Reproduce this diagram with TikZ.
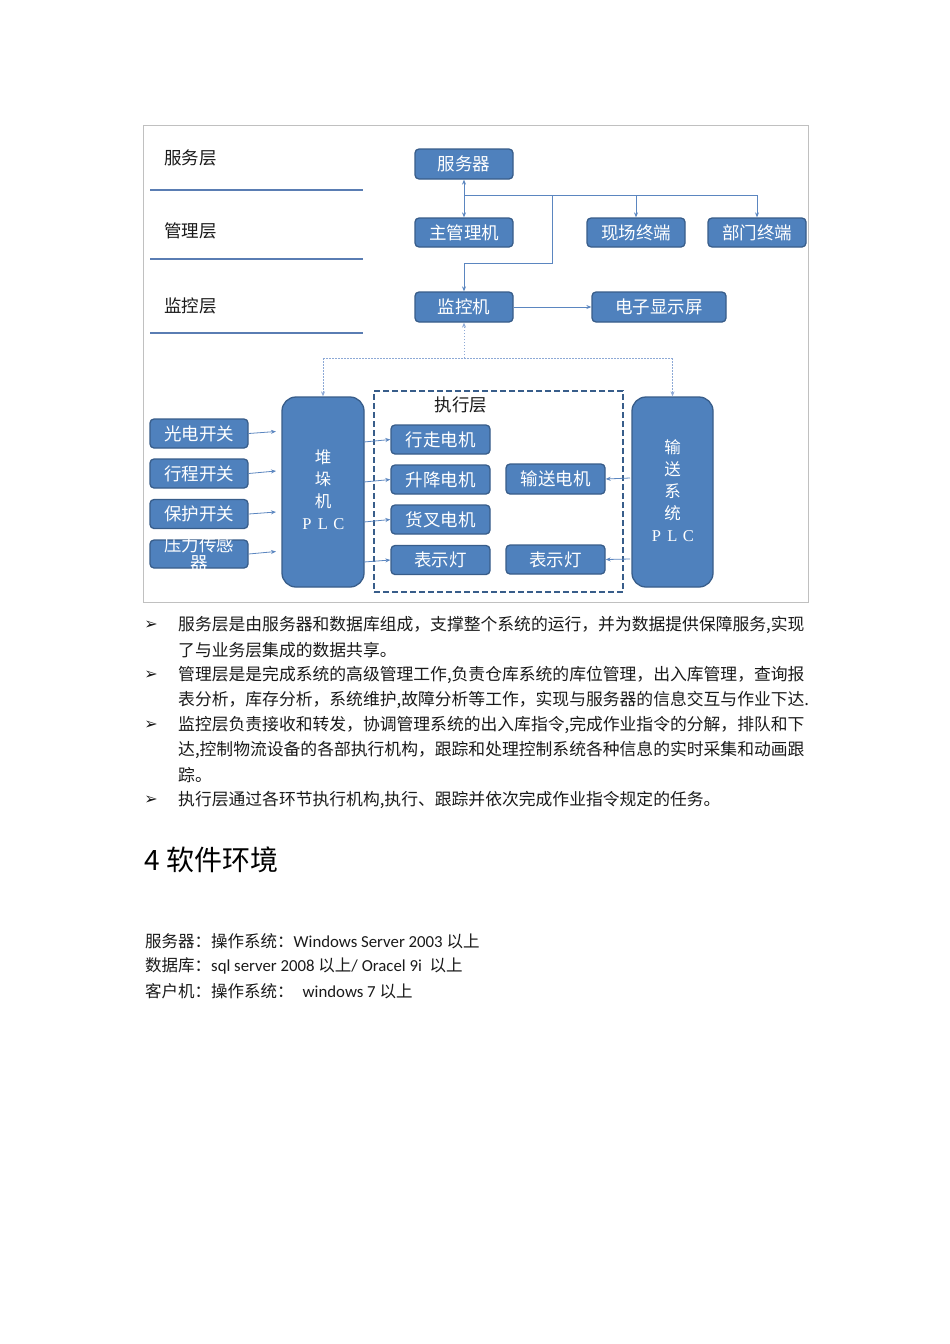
\documentclass[tikz,border=0pt]{standalone}
\usepackage{fontspec}
\usetikzlibrary{arrows.meta}
\newfontfamily\cjk{Noto Sans CJK SC}
\newfontfamily\lat{Carlito}
\newfontfamily\dejavu{DejaVu Sans}
\newfontfamily\lser{Liberation Serif}
\definecolor{boxfill}{HTML}{4F81BD}
\definecolor{boxborder}{HTML}{385D8A}
\definecolor{conncol}{HTML}{5B86C0}
\definecolor{dotcol}{HTML}{8DA9D6}
\definecolor{layercol}{HTML}{5A7DB3}
\definecolor{framecol}{HTML}{C0C0C0}
\definecolor{txtcol}{HTML}{1A1A1A}
\newcommand\plc{\lser\makebox[16pt]{P}\makebox[16pt]{L}\makebox[16pt]{C}}
\tikzset{
  box/.style={draw=boxborder, fill=boxfill, rounded corners=4pt, line width=1.3pt,
    text=white, font=\cjk\fontsize{17.5}{18}\selectfont, inner sep=0pt,
    minimum width=98pt, minimum height=29pt},
  plcbox/.style={draw=boxborder, fill=boxfill, rounded corners=14pt, line width=1.3pt,
    inner sep=0pt, minimum width=82pt, minimum height=190pt},
  plctext/.style={text=white, font=\cjk\fontsize{16.5}{22}\selectfont, align=center, inner sep=0pt},
  conn/.style={draw=conncol, line width=0.8pt, -{Stealth[length=5pt,width=4pt]}},
  conn2/.style={draw=conncol, line width=0.8pt, {Stealth[length=5pt,width=4pt]}-{Stealth[length=5pt,width=4pt]}},
  line/.style={draw=conncol, line width=0.8pt},
  dotline/.style={draw=dotcol, line width=0.9pt, dash pattern=on 1.5pt off 1.5pt},
  layerlbl/.style={text=txtcol, font=\cjk\fontsize{17.5}{18}\selectfont, inner sep=0pt, anchor=west},
  body/.style={text=txtcol, font=\cjk\fontsize{16.8}{20}\selectfont, inner sep=0pt, anchor=west},
  bul/.style={text=txtcol, font=\dejavu\fontsize{16}{18}\selectfont, inner sep=0pt},
  sw/.style={text=txtcol, font=\cjk\fontsize{16.5}{20}\selectfont, inner sep=0pt, anchor=west},
}
\begin{document}
\begin{tikzpicture}[x=1pt,y=-1pt]
\useasboundingbox (0,0) rectangle (950,1344);
\fill[white] (0,0) rectangle (950,1344);
% frame
\draw[framecol, line width=0.8pt] (143,125) rectangle (808,602);
% layer labels and lines
\node[layerlbl] (l1) at (164,158) {服务层};
\node[layerlbl] (l2) at (164,231) {管理层};
\node[layerlbl] (l3) at (164,306) {监控层};
\draw[layercol, line width=2.8pt] (150,190) -- (363,190);
\draw[layercol, line width=2.8pt] (150,259) -- (363,259);
\draw[layercol, line width=2.8pt] (150,333) -- (363,333);
% top boxes
\node[box, minimum height=30pt] (srv) at (464,164) {服务器};
\node[box] (mgr) at (464,232.5) {主管理机};
\node[box] (site) at (636,232.5) {现场终端};
\node[box] (dept) at (757,232.5) {部门终端};
\node[box, minimum height=30pt] (mon) at (464,307) {监控机};
\node[box, minimum width=134pt, minimum height=30pt] (disp) at (659,307) {电子显示屏};
% top connectors
\draw[conn2] (srv) -- (mgr);
\coordinate (b0) at (464,195);
\coordinate (b1) at (757,195);
\coordinate (b2) at (552,195);
\coordinate (b3) at (552,263);
\draw[line] (b0) -- (b1);
\draw[conn] (site.north |- b0) -- (site.north);
\draw[conn] (b1) -- (dept.north);
\draw[conn] (b2) -- (b3) -| (mon.north);
\draw[conn] (mon) -- (disp);
% execution layer
\node[draw=boxborder, line width=2pt, dash pattern=on 6pt off 3pt, inner sep=0pt,
  minimum width=249pt, minimum height=201pt] (exec) at (498.5,491.5) {};
\node[text=txtcol, font=\cjk\fontsize{17.5}{18}\selectfont, inner sep=0pt] (execlbl) at (461,405) {执行层};
\node[plcbox] (stk) at (323,492) {};
\node[plctext] (stktext) at (323,490) {堆\\垛\\机\\\plc};
\node[plcbox, minimum width=81pt] (conv) at (672.5,492) {};
\node[plctext] (convtext) at (672.5,491) {输\\送\\系\\统\\\plc};
% dotted connectors
\coordinate (d0) at (464,358);
\coordinate (d1) at (323,358);
\coordinate (d2) at (672.5,358);
\draw[dotline, -{Stealth[length=5pt,width=4pt]}] (d0) -- (mon.south);
\draw[dotline] (d1) -- (d2);
\draw[dotline, -{Stealth[length=5pt,width=4pt]}] (d1) -- (stk.north);
\draw[dotline, -{Stealth[length=5pt,width=4pt]}] (d2) -- (conv.north);
% left boxes
\node[box] (gd) at (199,433.5) {光电开关};
\node[box] (xc) at (199,473.5) {行程开关};
\node[box] (bh) at (199,514) {保护开关};
\node[box, minimum height=28pt] (yl) at (199,554) {};
\node[text=white, font=\cjk\fontsize{17.5}{18}\selectfont, align=center, inner sep=0pt] (yltext) at (199,554) {压力传感\\器};
\coordinate (a1) at (276,431.5);
\coordinate (a2) at (276,471);
\coordinate (a3) at (276,512);
\coordinate (a4) at (276,551.5);
\draw[conn] (gd.east) -- (a1);
\draw[conn] (xc.east) -- (a2);
\draw[conn] (bh.east) -- (a3);
\draw[conn] (yl.east) -- (a4);
% middle boxes
\node[box, minimum width=99pt] (xz) at (440.5,439.5) {行走电机};
\node[box, minimum width=99pt] (sj) at (440.5,479.5) {升降电机};
\node[box, minimum width=99pt] (hc) at (440.5,519.5) {货叉电机};
\node[box, minimum width=99pt] (bsd1) at (440.5,560) {表示灯};
\coordinate (s1) at (364,442);
\coordinate (s2) at (364,482);
\coordinate (s3) at (364,522);
\coordinate (s4) at (364,562);
\draw[conn] (s1) -- (xz.west);
\draw[conn] (s2) -- (sj.west);
\draw[conn] (s3) -- (hc.west);
\draw[conn] (s4) -- (bsd1.west);
% right boxes
\node[box, minimum width=99pt, minimum height=30pt] (ss) at (555.5,479) {输送电机};
\node[box, minimum width=99pt] (bsd2) at (555.5,559.5) {表示灯};
\coordinate (r1) at (630,478);
\coordinate (r2) at (630,559);
\draw[conn] (r1) -- (ss.east);
\draw[conn] (r2) -- (bsd2.east);
% body text
\node[bul] (u1) at (151,625) {➢};
\node[bul] (u2) at (151,675) {➢};
\node[bul] (u3) at (151,725) {➢};
\node[bul] (u4) at (151,800) {➢};
\node[body] (p1a) at (178,625) {服务层是由服务器和数据库组成，支撑整个系统的运行，并为数据提供保障服务,实现};
\node[body] (p1b) at (178,650) {了与业务层集成的数据共享。};
\node[body] (p2a) at (178,675) {管理层是是完成系统的高级管理工作,负责仓库系统的库位管理，出入库管理，查询报};
\node[body] (p2b) at (178,700) {表分析，库存分析，系统维护,故障分析等工作，实现与服务器的信息交互与作业下达.};
\node[body] (p3a) at (178,725) {监控层负责接收和转发，协调管理系统的出入库指令,完成作业指令的分解，排队和下};
\node[body] (p3b) at (178,750) {达,控制物流设备的各部执行机构，跟踪和处理控制系统各种信息的实时采集和动画跟};
\node[body] (p3c) at (178,775) {踪。};
\node[body] (p4) at (178,800) {执行层通过各环节执行机构,执行、跟踪并依次完成作业指令规定的任务。};
% heading
\node[text=black, font=\cjk\fontsize{28}{30}\selectfont, inner sep=0pt, anchor=west] (h4) at (144,860) {4 软件环境};
% software lines
\node[sw] (sw1) at (145,941) {服务器：操作系统：{\lat\fontsize{16.8}{20}\selectfont Windows Server 2003 }以上};
\node[sw] (sw2) at (145,966) {数据库：{\lat\fontsize{16.8}{20}\selectfont sql server 2008 }以上{\lat\fontsize{16.8}{20}\selectfont / Oracel 9i\ \ }以上};
\node[sw] (sw3) at (145,991) {客户机：操作系统：\hspace{9pt}{\lat\fontsize{16.8}{20}\selectfont windows 7 }以上};
\end{tikzpicture}
\end{document}
